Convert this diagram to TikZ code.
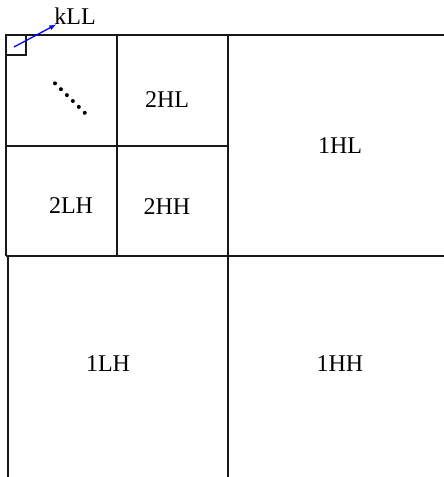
\documentclass[tikz,border=0pt]{standalone}
\usepackage{fontspec}
\setmainfont{Liberation Serif}
\usetikzlibrary{arrows,positioning}
\usepackage{xcolor}
\begin{document}
\begin{tikzpicture}[x=1pt,y=-1pt,grid/.style={black!90,line width=1.2pt},band/.style={font=\fontsize{24}{28}\selectfont,inner sep=0pt}]
\useasboundingbox (0,0) rectangle (444,477);
% subband borders
\draw[grid] (6,35) -- (444,35);
\draw[grid] (6,146) -- (228,146);
\draw[grid] (6,256) -- (444,256);
\draw[grid] (6,35) -- (6,256);
\draw[grid] (8,256) -- (8,477);
\draw[grid] (117,35) -- (117,256);
\draw[grid] (228,35) -- (228,477);
\draw[grid] (6,35) rectangle (26,55);
% dots
\foreach \i in {0,...,5}{\fill (55+5.95*\i,83.3+5.9*\i) circle (2);}
% labels
\node[band] (hl2) at (167,100) {2HL};
\node[band] (lh2) at (71,206) {2LH};
\node[band] (hh2) at (167,207) {2HH};
\node[band] (hl1) at (340,146) {1HL};
\node[band] (lh1) at (108,364) {1LH};
\node[band] (hh1) at (340,364) {1HH};
\node[band] (kll) at (75,16) {kLL};
\coordinate (ll) at (14,47);
\draw[blue,line width=1.3pt,-latex] (ll) -- ([xshift=2pt]kll.south west);
\end{tikzpicture}
\end{document}
